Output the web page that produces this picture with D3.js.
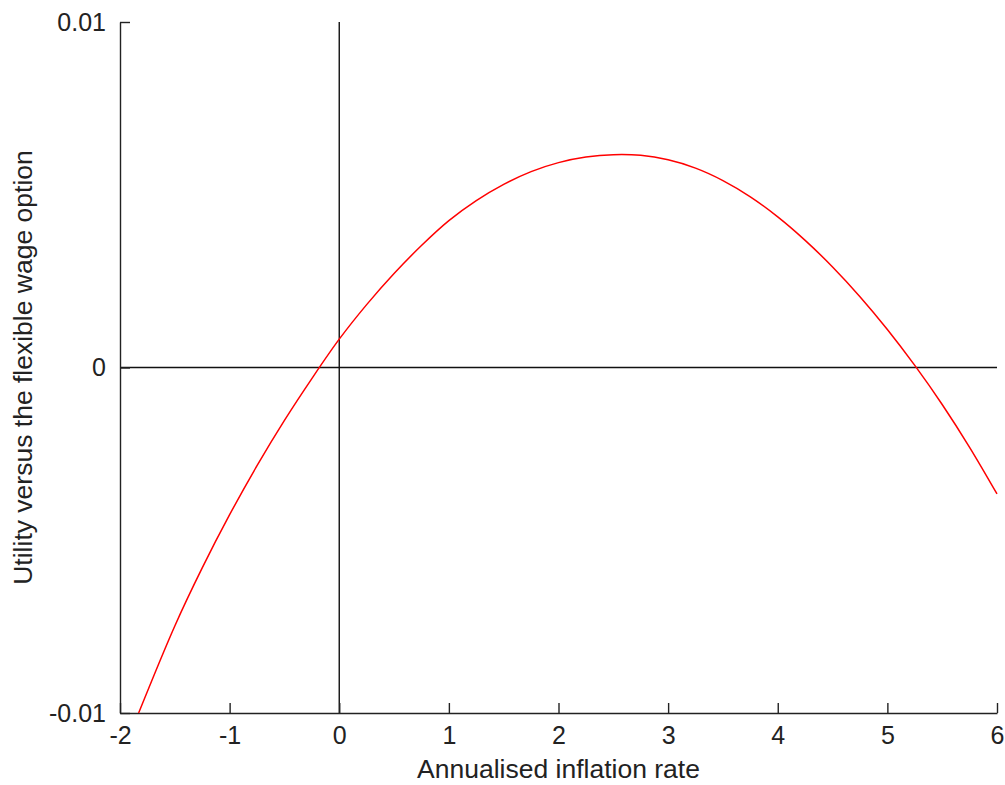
<!DOCTYPE html>
<html>
<head>
<meta charset="utf-8">
<script src="https://cdn.jsdelivr.net/npm/d3@7"></script>
<style>
  html, body { margin: 0; padding: 0; background: #fff; }
  svg { display: block; }
  .axis text { font-family: "Liberation Sans", Arial, sans-serif; font-size: 25px; fill: #222; }
  .axis path, .axis line { stroke: #222; stroke-width: 1.4; }
  .title { font-family: "Liberation Sans", Arial, sans-serif; font-size: 26.5px; fill: #222; }
</style>
</head>
<body>
<div id="chart"></div>
<script>
/* ============================
   DATA
============================ */
const inflation = [-1.83, -1.5, -1.25, -1, -0.75, -0.5, -0.25, 0, 0.25, 0.5, 0.75, 1, 1.25, 1.5, 1.75, 2,
  2.25, 2.5, 2.75, 3, 3.25, 3.5, 3.75, 4, 4.25, 4.5, 4.75, 5, 5.25, 5.5, 5.75, 6];
const utility = [-0.0100, -0.00748, -0.00580, -0.00426, -0.00284, -0.00153, -0.00032, 0.00082, 0.00182,
  0.00272, 0.00353, 0.00425, 0.00483, 0.00530, 0.00567, 0.00593, 0.00609, 0.00616, 0.00614, 0.00601,
  0.00577, 0.00541, 0.00494, 0.00436, 0.00368, 0.00291, 0.00205, 0.00110, 0.00006, -0.00107, -0.00231, -0.00366];

const xTicks = [-2, -1, 0, 1, 2, 3, 4, 5, 6];
const yTicks = [-0.01, 0, 0.01];
const xLabel = "Annualised inflation rate";
const yLabel = "Utility versus the flexible wage option";

/* ============================
   LAYOUT
============================ */
const W = 1005, H = 785;
const mLeft = 120, mRight = 997, mTop = 22, mBottom = 713;

const svg = d3.select("#chart").append("svg")
  .attr("width", W)
  .attr("height", H);

const x = d3.scaleLinear().domain([-2, 6]).range([mLeft, mRight]);
const y = d3.scaleLinear().domain([-0.01, 0.01]).range([mBottom, mTop]);

// zero lines
svg.append("line")
  .attr("x1", mLeft).attr("x2", mRight)
  .attr("y1", y(0)).attr("y2", y(0))
  .attr("stroke", "#111").attr("stroke-width", 1.4);

svg.append("line")
  .attr("x1", x(0)).attr("x2", x(0))
  .attr("y1", mTop).attr("y2", mBottom)
  .attr("stroke", "#111").attr("stroke-width", 1.4);

// axes (ticks pointing inward)
svg.append("g")
  .attr("class", "axis")
  .attr("transform", `translate(0,${mBottom})`)
  .call(d3.axisBottom(x).tickValues(xTicks).tickFormat(d => String(d))
    .tickSizeInner(-10).tickSizeOuter(0).tickPadding(13));

svg.append("g")
  .attr("class", "axis")
  .attr("transform", `translate(${mLeft},0)`)
  .call(d3.axisLeft(y).tickValues(yTicks).tickFormat(d => String(d))
    .tickSizeInner(-10).tickSizeOuter(0).tickPadding(14));

// curve
const pts = inflation.map((v, i) => [v, utility[i]]);
const line = d3.line()
  .x(d => x(d[0]))
  .y(d => y(d[1]))
  .curve(d3.curveCatmullRom);

svg.append("path")
  .datum(pts)
  .attr("fill", "none")
  .attr("stroke", "#ff0000")
  .attr("stroke-width", 1.5)
  .attr("d", line);

// titles
svg.append("text")
  .attr("class", "title")
  .attr("x", (mLeft + mRight) / 2)
  .attr("y", 778)
  .attr("text-anchor", "middle")
  .text(xLabel);

svg.append("text")
  .attr("class", "title")
  .attr("transform", `translate(32,${(mTop + mBottom) / 2}) rotate(-90)`)
  .attr("text-anchor", "middle")
  .text(yLabel);
</script>
</body>
</html>
